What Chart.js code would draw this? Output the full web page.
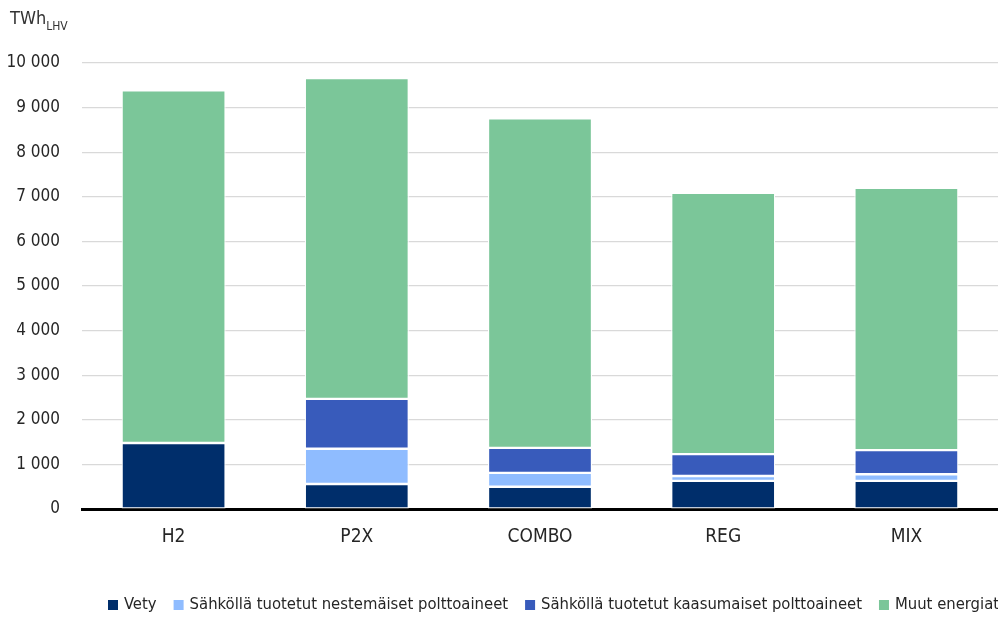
<!DOCTYPE html>
<html>
<head>
<meta charset="utf-8">
<script src="https://cdn.jsdelivr.net/npm/chart.js@4/dist/chart.umd.min.js"></script>
<style>
  html, body { margin: 0; padding: 0; background: #fff; overflow: hidden; }
  #wrap { position: relative; width: 998px; height: 617px; }
</style>
</head>
<body>
<div id="wrap"><canvas id="c" width="998" height="617"></canvas></div>
<script>
// Scenarios on the x axis
const scenarios = ['H2', 'P2X', 'COMBO', 'REG', 'MIX'];

// Energy use by carrier, TWh (LHV)
const vety = [1480, 560, 500, 630, 630];
const nestemaiset = [0, 790, 310, 110, 150];
const kaasumaiset = [0, 1120, 560, 490, 540];
const muut = [7910, 7190, 7390, 5860, 5880];

const seriesNames = [
  'Vety',
  'Sähköllä tuotetut nestemäiset polttoaineet',
  'Sähköllä tuotetut kaasumaiset polttoaineet',
  'Muut energiat'
];
const seriesColors = ['#002E6B', '#8FBCFF', '#385BBB', '#7BC699'];

const yMax = 10000;
const yStep = 1000;

const FONT = '"Liberation Sans Narrow", "DejaVu Sans Condensed", "Roboto Condensed", sans-serif';
const TEXT = '#262626';

// Unit label in the top-left corner
const unitLabel = {
  id: 'unitLabel',
  afterDraw(chart) {
    const ctx = chart.ctx;
    ctx.save();
    ctx.fillStyle = '#333';
    ctx.textBaseline = 'alphabetic';
    ctx.textAlign = 'left';
    ctx.font = '18px ' + FONT;
    ctx.fillText('TWh', 10, 24);
    const w = ctx.measureText('TWh').width;
    ctx.font = '12px ' + FONT;
    ctx.fillText('LHV', 10 + w, 30);
    ctx.restore();
  }
};

// Single-row legend along the bottom edge
const bottomLegend = {
  id: 'bottomLegend',
  afterDraw(chart) {
    const ctx = chart.ctx;
    ctx.save();
    ctx.font = '16.5px ' + FONT;
    ctx.textBaseline = 'middle';
    ctx.textAlign = 'left';
    let x = 108;
    const y = 605;
    chart.data.datasets.forEach(ds => {
      ctx.fillStyle = ds.backgroundColor;
      ctx.fillRect(x, y - 5, 10, 10);
      x += 16;
      ctx.fillStyle = TEXT;
      ctx.fillText(ds.label, x, y);
      x += ctx.measureText(ds.label).width + 17;
    });
    ctx.restore();
  }
};

const values = [vety, nestemaiset, kaasumaiset, muut];

new Chart(document.getElementById('c'), {
  type: 'bar',
  data: {
    labels: scenarios,
    datasets: values.map((v, i) => ({
      label: seriesNames[i],
      data: v,
      backgroundColor: seriesColors[i],
      borderColor: '#ffffff',
      borderWidth: 1.2,
      borderSkipped: false,
      categoryPercentage: 0.8,
      barPercentage: 0.71
    }))
  },
  options: {
    responsive: false,
    animation: false,
    devicePixelRatio: 1,
    layout: { padding: { top: 63, right: 0, bottom: 68, left: 0 } },
    plugins: {
      legend: { display: false },
      tooltip: { enabled: false }
    },
    scales: {
      x: {
        stacked: true,
        grid: { display: false, drawTicks: false },
        border: { display: true, color: '#000', width: 3 },
        ticks: { color: TEXT, font: { family: FONT, size: 19 }, padding: 17 },
        afterFit(scale) { scale.height = 40; }
      },
      y: {
        stacked: true,
        min: 0,
        max: yMax,
        grid: { color: '#d9d9d9', lineWidth: 1.2, drawTicks: false },
        border: { display: false },
        ticks: {
          stepSize: yStep,
          color: TEXT,
          font: { family: FONT, size: 17 },
          padding: 22,
          callback: v => v >= 1000 ? Math.floor(v / 1000) + '\u00A0' + String(v % 1000).padStart(3, '0') : String(v)
        },
        afterFit(scale) { scale.width = 82; }
      }
    }
  },
  plugins: [unitLabel, bottomLegend]
});
</script>
</body>
</html>
